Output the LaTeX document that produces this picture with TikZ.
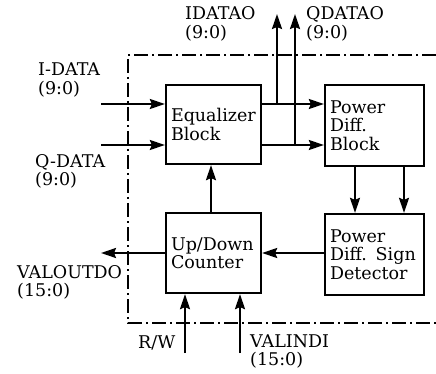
\documentclass[tikz,border=0pt]{standalone}
\usepackage{fontspec}
\setmainfont{DejaVu Serif}
\usetikzlibrary{arrows.meta}
\begin{document}
\begin{tikzpicture}[x=1pt,y=-1pt,
  every node/.style={font=\fontsize{17.5}{18.5}\selectfont},
  blk/.style={draw,line width=2.3pt,align=left,inner xsep=5pt,inner ysep=0pt},
  arr/.style={line width=2.2pt,-{Stealth[length=15pt,width=10pt,inset=2pt]}},
  lbl/.style={anchor=west,align=left,inner sep=0pt},
  frame/.style={line width=1.5pt,dash pattern=on 14pt off 4pt on 2pt off 4pt}]
\useasboundingbox (0,0) rectangle (436,374);
% frame
\draw[frame] (436,55) -- (128,55) -- (128,323) -- (436,323);
% blocks
\node[blk,minimum width=95pt,minimum height=79pt,text width=85pt] (eq) at (213.5,124.5) {Equalizer\\Block};
\node[blk,minimum width=99pt,minimum height=81pt,text width=89pt] (pd) at (374.5,125.5) {Power\\Diff.\\Block};
\node[blk,minimum width=95pt,minimum height=80pt,text width=85pt] (ud) at (213.5,253) {Up/Down\\Counter};
\node[blk,minimum width=99pt,minimum height=81pt,text width=89pt] (sd) at (374.5,254.5) {Power\\Diff. Sign\\Detector};
% coordinates
\coordinate (idin) at (101,104);
\coordinate (qdin) at (101,145);
\coordinate (ido) at (277,14);
\coordinate (qdo) at (295,14);
\coordinate (c1) at (355,0);
\coordinate (c2) at (404,0);
\coordinate (c3) at (211,0);
\coordinate (vout) at (101,253);
\coordinate (rw) at (185,353);
\coordinate (vin) at (240,353);
% connectors
\draw[arr] (idin) -- (idin -| eq.west);
\draw[arr] (qdin) -- (qdin -| eq.west);
\draw[arr] (idin -| eq.east) -- (idin -| pd.west);
\draw[arr] (qdin -| eq.east) -- (qdin -| pd.west);
\draw[arr] (ido |- idin) -- (ido);
\draw[arr] (qdo |- qdin) -- (qdo);
\draw[arr] (pd.south -| c1) -- (sd.north -| c1);
\draw[arr] (pd.south -| c2) -- (sd.north -| c2);
\draw[arr] (ud.north -| c3) -- (eq.south -| c3);
\draw[arr] (sd.west |- vout) -- (ud.east |- vout);
\draw[arr] (ud.west |- vout) -- (vout);
\draw[arr] (rw) -- (rw |- ud.south);
\draw[arr] (vin) -- (vin |- ud.south);
% labels
\node[lbl] (l1) at (38,80) {I-DATA\\(9:0)};
\node[lbl] (l2) at (35,171.5) {Q-DATA\\(9:0)};
\node[lbl] (l3) at (185,24) {IDATAO\\(9:0)};
\node[lbl] (l4) at (306,24) {QDATAO\\(9:0)};
\node[lbl] (l5) at (17,282.5) {VALOUTDO\\(15:0)};
\node[lbl] (l6) at (138,343) {R/W};
\node[lbl] (l7) at (250,351.5) {VALINDI\\(15:0)};
\end{tikzpicture}
\end{document}
